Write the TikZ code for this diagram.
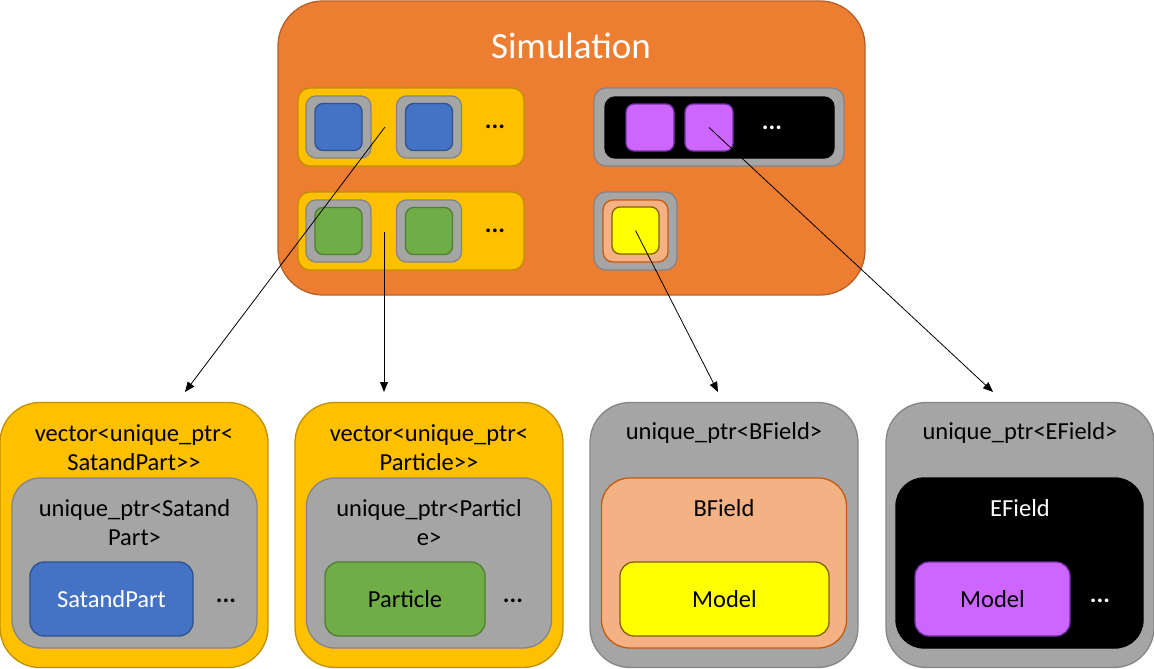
\documentclass[tikz,border=0pt]{standalone}
\usepackage{fontspec}
\setmainfont{Carlito}
\usetikzlibrary{arrows.meta}

\definecolor{sim area}{HTML}{ED7D31}
\definecolor{sim edge}{HTML}{B5622A}
\definecolor{gold area}{HTML}{FFC000}
\definecolor{gold edge}{HTML}{C09000}
\definecolor{ptr area}{HTML}{A5A5A5}
\definecolor{ptr edge}{HTML}{858585}
\definecolor{sat area}{HTML}{4472C4}
\definecolor{sat edge}{HTML}{2F528F}
\definecolor{part area}{HTML}{70AD47}
\definecolor{part edge}{HTML}{507E32}
\definecolor{bf area}{HTML}{F4B183}
\definecolor{bf edge}{HTML}{C55A11}
\definecolor{model area}{HTML}{FFFF00}
\definecolor{model edge}{HTML}{7F6000}
\definecolor{ef area}{HTML}{CC66FF}
\definecolor{ef edge}{HTML}{7030A0}

\tikzset{
  pane/.style={draw, line width=1.3pt, inner sep=0pt},
  goldpane/.style={pane, fill=gold area, draw=gold edge},
  ptrpane/.style={pane, fill=ptr area, draw=ptr edge},
  txt/.style={font=\fontsize{24.5}{29}\selectfont, inner sep=0pt},
  dots/.style={font=\fontsize{25}{29}\selectfont\bfseries, inner sep=0pt},
  link/.style={-{Triangle[length=10pt,width=8pt]}, line width=0.8pt},
}

\begin{document}
\begin{tikzpicture}[x=1pt, y=-1pt]
\useasboundingbox (0,0) rectangle (1154,669);

% simulation
\node[pane, fill=sim area, draw=sim edge, rounded corners=45pt, minimum width=587pt, minimum height=294pt] (sim) at (571.5,148) {};
\node[font=\fontsize{37}{44}\selectfont, text=white, inner sep=0pt] (simTitle) at (571,46) {Simulation};

% particle vectors
\foreach \row/\yy/\col in {Sat/127/sat, Part/231/part}{
  \node[goldpane, rounded corners=12pt, minimum width=226pt, minimum height=78pt] (vec\row Small) at (411,\yy) {};
  \foreach \i/\xx in {1/338.5, 2/429}{
    \node[ptrpane, rounded corners=10pt, minimum width=65pt, minimum height=62pt] (ptr\row\i) at (\xx,\yy) {};
    \node[pane, fill=\col\space area, draw=\col\space edge, rounded corners=8pt, minimum width=47pt, minimum height=47pt] (obj\row\i) at (\xx,\yy) {};
  }
  \node[dots] (dots\row) at (495,\yy) {...};
}

% efield
\node[ptrpane, rounded corners=12pt, minimum width=250pt, minimum height=78pt] (efPtrSmall) at (719,127) {};
\node[pane, fill=black, draw=black, rounded corners=10pt, minimum width=229pt, minimum height=61pt] (efSmall) at (719.5,127.5) {};
\foreach \i/\xx in {1/650, 2/709}
  \node[pane, fill=ef area, draw=ef edge, rounded corners=8pt, minimum width=48pt, minimum height=47pt] (efModel\i) at (\xx,127.5) {};
\node[dots, text=white] (dotsEf) at (772,128) {...};

% bfield
\node[ptrpane, rounded corners=12pt, minimum width=83pt, minimum height=78pt] (bfPtrSmall) at (635.5,231) {};
\node[pane, fill=bf area, draw=bf edge, rounded corners=10pt, minimum width=65pt, minimum height=62pt] (bfSmall) at (635.5,231) {};
\node[pane, fill=model area, draw=model edge, rounded corners=8pt, minimum width=47pt, minimum height=47pt] (bfModel) at (635.5,230.5) {};

% bottom row
\node[goldpane, rounded corners=40pt, minimum width=268pt, minimum height=265pt] (vecSat) at (134,535) {};
\node[txt, align=center] at (134,448) {vector<unique\_ptr<\\SatandPart>{}>};
\node[ptrpane, rounded corners=28pt, minimum width=245pt, minimum height=170pt] (ptrSat) at (134.5,563) {};
\node[txt, align=center] at (134.5,523) {unique\_ptr<Satand\\Part>};
\node[pane, fill=sat area, draw=sat edge, rounded corners=14pt, minimum width=163pt, minimum height=74pt] (satPart) at (111.5,599) {};
\node[txt, text=white] at (satPart) {SatandPart};
\node[dots] at (226,601) {...};

\node[goldpane, rounded corners=40pt, minimum width=268pt, minimum height=265pt] (vecPart) at (429,535) {};
\node[txt, align=center] at (429,448) {vector<unique\_ptr<\\Particle>{}>};
\node[ptrpane, rounded corners=28pt, minimum width=245pt, minimum height=170pt] (ptrPart) at (429,563) {};
\node[txt, align=center] at (429,523) {unique\_ptr<Particl\\e>};
\node[pane, fill=part area, draw=part edge, rounded corners=14pt, minimum width=160pt, minimum height=74pt] (particle) at (405,599) {};
\node[txt] at (particle) {Particle};
\node[dots] at (513,601) {...};

\node[ptrpane, rounded corners=40pt, minimum width=268pt, minimum height=265pt] (ptrBf) at (724,535) {};
\node[txt] at (724,433) {unique\_ptr<BField>};
\node[pane, fill=bf area, draw=bf edge, rounded corners=28pt, minimum width=245pt, minimum height=170pt] (bField) at (724,563) {};
\node[txt] at (724,508) {BField};
\node[pane, fill=model area, draw=model edge, rounded corners=14pt, minimum width=209pt, minimum height=74pt] (bModel) at (724.5,599) {};
\node[txt] at (bModel) {Model};

\node[ptrpane, rounded corners=40pt, minimum width=268pt, minimum height=265pt] (ptrEf) at (1020,535) {};
\node[txt] at (1020,433) {unique\_ptr<EField>};
\node[pane, fill=black, draw=black, rounded corners=28pt, minimum width=247pt, minimum height=170pt] (eField) at (1019.5,563) {};
\node[txt, text=white] at (1020,508) {EField};
\node[pane, fill=ef area, draw=ef edge, rounded corners=14pt, minimum width=155pt, minimum height=74pt] (eModel) at (992.5,599) {};
\node[txt] at (eModel) {Model};
\node[dots, text=white] at (1100,601) {...};

% links
\coordinate (satSrc) at (385,127);
\coordinate (partSrc) at (384,232);
\coordinate (satDst) at (185,392);
\coordinate (partDst) at (384,392);
\coordinate (bfDst) at (718,392);
\coordinate (efDst) at (993,392);
\draw[link] (satSrc) -- (satDst);
\draw[link] (partSrc) -- (partDst);
\draw[link] (bfModel.center) -- (bfDst);
\draw[link] (efModel2.center) -- (efDst);
\end{tikzpicture}
\end{document}
